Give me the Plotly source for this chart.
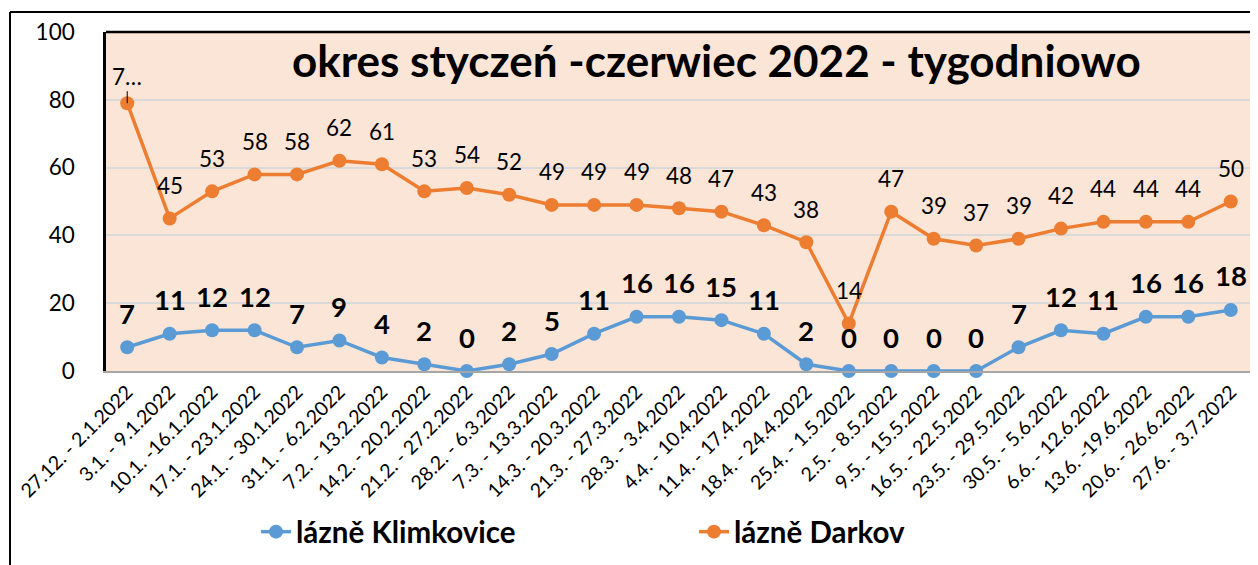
import plotly.graph_objects as go

categories = [
    "27.12. - 2.1.2022", "3.1. - 9.1.2022", "10.1. -16.1.2022", "17.1. - 23.1.2022",
    "24.1. - 30.1.2022", "31.1. - 6.2.2022", "7.2. - 13.2.2022", "14.2. - 20.2.2022",
    "21.2. - 27.2.2022", "28.2. - 6.3.2022", "7.3. - 13.3.2022", "14.3. - 20.3.2022",
    "21.3. - 27.3.2022", "28.3. - 3.4.2022", "4.4. - 10.4.2022", "11.4. - 17.4.2022",
    "18.4. - 24.4.2022", "25.4. - 1.5.2022", "2.5. - 8.5.2022", "9.5. - 15.5.2022",
    "16.5. - 22.5.2022", "23.5. - 29.5.2022", "30.5. - 5.6.2022", "6.6. - 12.6.2022",
    "13.6. -19.6.2022", "20.6. - 26.6.2022", "27.6. - 3.7.2022",
]
klimkovice = [7, 11, 12, 12, 7, 9, 4, 2, 0, 2, 5, 11, 16, 16, 15, 11, 2, 0, 0, 0, 0, 7, 12, 11, 16, 16, 18]
darkov = [79, 45, 53, 58, 58, 62, 61, 53, 54, 52, 49, 49, 49, 48, 47, 43, 38, 14, 47, 39, 37, 39, 42, 44, 44, 44, 50]
y_ticks = [0, 20, 40, 60, 80, 100]
title_text = "okres styczeń -czerwiec 2022 - tygodniowo"
series_names = ["lázně Klimkovice", "lázně Darkov"]

FONT = "Lato"
BLUE = "#5B9BD5"
ORANGE = "#ED7D31"

# the page has an 8px body margin; size the figure so it fills the window
OFF = 8
W, H = 1258 - OFF, 565 - OFF
ML, MR, MT, MB = 106 - OFF, 6, 32 - OFF, 194
PW, PH = W - ML - MR, H - MT - MB


def px_x(page_x):
    return (page_x - OFF - ML) / PW


def px_y(page_y):
    return (H - MB - (page_y - OFF)) / PH


fig = go.Figure()
fig.add_trace(go.Scatter(
    x=categories, y=klimkovice, name=series_names[0], mode="lines+markers",
    line=dict(color=BLUE, width=3.5), marker=dict(size=14, color=BLUE),
    cliponaxis=False,
))
fig.add_trace(go.Scatter(
    x=categories, y=darkov, name=series_names[1], mode="lines+markers",
    line=dict(color=ORANGE, width=3.5), marker=dict(size=14, color=ORANGE),
    cliponaxis=False,
))

annotations = []
for c, v in zip(categories, klimkovice):
    annotations.append(dict(x=c, y=v, text=str(v), showarrow=False, yshift=34,
                            font=dict(family=FONT, size=27.5, color="black", weight="bold")))
for i, (c, v) in enumerate(zip(categories, darkov)):
    if i == 0:
        annotations.append(dict(x=c, y=v, text=str(v)[0] + "…", showarrow=True,
                                arrowhead=0, arrowwidth=1, arrowcolor="black",
                                ax=0, ay=-27, standoff=0,
                                font=dict(family=FONT, size=22.5, color="black")))
    else:
        annotations.append(dict(x=c, y=v, text=str(v), showarrow=False, yshift=33,
                                font=dict(family=FONT, size=22.5, color="black")))

annotations.append(dict(
    xref="paper", yref="paper", x=px_x(716), y=px_y(60), text=title_text,
    showarrow=False, xanchor="center", yanchor="middle",
    font=dict(family=FONT, size=44, color="black", weight="bold"),
))

shapes = [
    # outer chart border (left and top)
    dict(type="line", xref="paper", yref="paper", x0=px_x(10), x1=px_x(10), y0=px_y(12), y1=px_y(580),
         line=dict(color="black", width=2)),
    dict(type="line", xref="paper", yref="paper", x0=px_x(10), x1=px_x(1270), y0=px_y(12), y1=px_y(12),
         line=dict(color="black", width=2)),
    # plot area border
    dict(type="line", xref="paper", yref="paper", x0=0, x1=1, y0=1, y1=1,
         line=dict(color="black", width=2.5)),
    dict(type="line", xref="paper", yref="paper", x0=1, x1=1, y0=0, y1=1,
         line=dict(color="#404040", width=1.5)),
]

fig.update_layout(
    width=W, height=H,
    margin=dict(l=ML, r=MR, t=MT, b=MB),
    paper_bgcolor="white",
    plot_bgcolor="#FBE5D6",
    font=dict(family=FONT, color="black"),
    showlegend=True,
    legend=dict(
        orientation="h", x=px_x(256), y=px_y(532), xanchor="left", yanchor="middle",
        font=dict(family=FONT, size=29.5, color="black", weight="bold"),
        entrywidth=393, entrywidthmode="pixels", bgcolor="rgba(0,0,0,0)",
    ),
    xaxis=dict(
        type="category", range=[-0.5, len(categories) - 0.5],
        tickangle=-45, tickfont=dict(family=FONT, size=19.5, color="black"),
        showgrid=False, showline=True, linecolor="#A6A6A6", linewidth=2,
        ticks="", zeroline=False,
    ),
    yaxis=dict(
        range=[0, 100], tickvals=y_ticks,
        tickfont=dict(family=FONT, size=22.5, color="black"),
        showgrid=True, gridcolor="#D9D9D9", gridwidth=1.5,
        showline=True, linecolor="black", linewidth=2.5,
        zeroline=False, ticks="", ticklabelstandoff=24,
    ),
    annotations=annotations,
    shapes=shapes,
)

fig.write_html("out.html")
